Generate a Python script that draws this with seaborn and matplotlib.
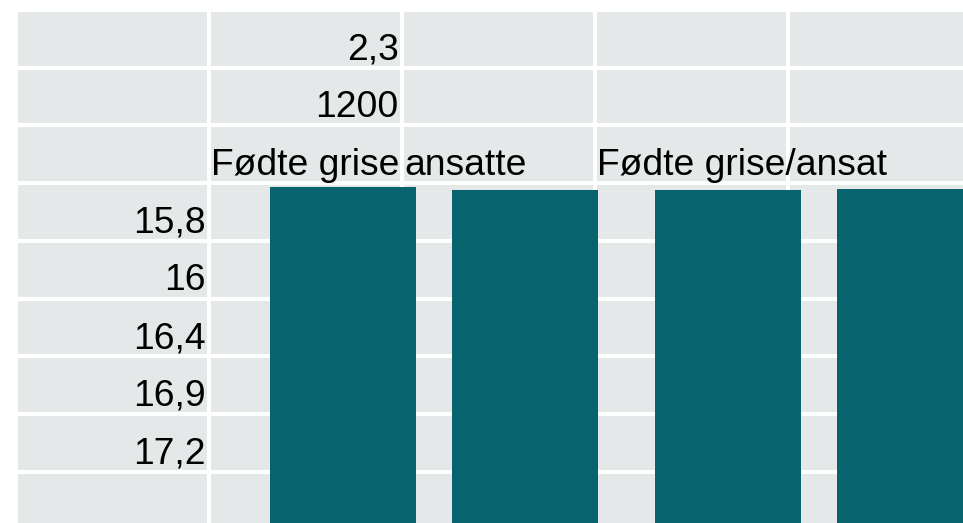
import numpy as np
import pandas as pd
import matplotlib
matplotlib.use("Agg")
import matplotlib.pyplot as plt
import seaborn as sns

# Spreadsheet cells shown behind the chart
n_rows = 9
n_cols = 5
top_values = ["2,3", "1200"]               # column 1, rows 0-1
headers = ["Fødte grise", "ansatte", "Fødte grise/ansat"]   # row 2, columns 1-3
row_labels = ["15,8", "16", "16,4", "16,9", "17,2"]        # column 0, rows 3-7

# Bar chart laid over the sheet
groups = ["A", "A", "B", "B"]
series = ["Fødte grise", "Fødte grise/ansat", "Fødte grise", "Fødte grise/ansat"]
values = [64.2, 63.7, 63.7, 63.9]

cell_color = "#E5E8E9"
bar_color = "#07646F"


def draw_sheet(ax):
    cells = np.zeros((n_rows, n_cols))
    sns.heatmap(cells, cmap=[cell_color], cbar=False, linewidths=2.6,
                linecolor="white", xticklabels=False, yticklabels=False, ax=ax)
    # crop like a screenshot of the sheet
    ax.set_xlim(-16 / 193, (963 - 16) / 193)
    ax.set_ylim((523 - 9.8) / 57.75, -9.8 / 57.75)

    font = dict(fontsize=26.8, family="Liberation Sans", color="black", va="baseline")
    for i, txt in enumerate(top_values):
        ax.text(2 - 0.017, i + 0.86, txt, ha="right", **font)
    for j, txt in enumerate(headers):
        ax.text(1 + j + 0.012, 2 + 0.86, txt, ha="left", **font)
    for i, txt in enumerate(row_labels):
        ax.text(1 - 0.017, 3 + i + 0.86, txt, ha="right", **font)


def draw_bars(ax):
    df = pd.DataFrame({"gruppe": groups, "serie": series, "værdi": values})
    sns.barplot(data=df, x="gruppe", y="værdi", hue="serie",
                palette=[bar_color, bar_color], saturation=1, width=0.945, gap=0.198,
                legend=False, ax=ax, linewidth=0)
    ax.set_xlim(-434 / 385, (963 - 434) / 385)
    ax.set_ylim(0, 100)
    ax.set_facecolor("none")
    ax.axis("off")


def main():
    fig = plt.figure(figsize=(9.63, 5.23), dpi=100)
    ax_sheet = fig.add_axes([0, 0, 1, 1])
    draw_sheet(ax_sheet)
    ax_bars = fig.add_axes([0, 0, 1, 1])
    draw_bars(ax_bars)
    fig.savefig("out.png", dpi=100, facecolor="white")


if __name__ == "__main__":
    main()
